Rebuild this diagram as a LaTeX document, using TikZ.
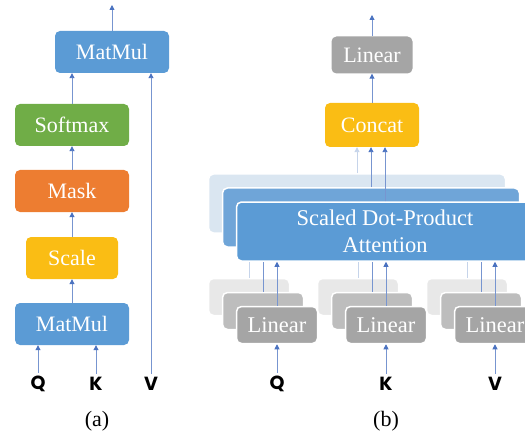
\documentclass[tikz,border=0pt]{standalone}
\usepackage{fontspec}
\setmainfont{Liberation Serif}
\newfontfamily\qkvfont{Poppins}
\usetikzlibrary{arrows.meta}
\definecolor{mmblue}{HTML}{5B9BD5}
\definecolor{smgreen}{HTML}{70AD47}
\definecolor{mkorange}{HTML}{ED7D31}
\definecolor{scyellow}{HTML}{FABD14}
\definecolor{lngrey}{HTML}{A5A5A5}
\definecolor{lnmid}{HTML}{BDBDBD}
\definecolor{lnback}{HTML}{E8E8E8}
\definecolor{attmid}{HTML}{6FA5D8}
\definecolor{attback}{HTML}{DAE6F1}
\definecolor{arrblue}{HTML}{4A72C0}
\definecolor{arrfaint}{HTML}{C6D4EA}
\begin{document}
\begin{tikzpicture}[x=1pt,y=-1pt,
  block/.style={rounded corners=5pt,fill=#1,text=white,inner sep=0pt,
    font=\fontsize{22}{26}\selectfont,minimum height=42pt},
  layer/.style={rounded corners=5pt,fill=#1,draw=white,line width=1.5pt,
    text=white,inner sep=0pt,align=center,font=\fontsize{22.5}{27}\selectfont},
  inlabel/.style={font=\qkvfont\bfseries\fontsize{19}{23}\selectfont,inner sep=3pt},
  caption/.style={font=\fontsize{22}{26}\selectfont,inner sep=0pt},
  arr/.style={draw=arrblue!75,line width=0.9pt,
    -{Triangle[length=5pt,width=5pt,color=arrblue]}},
  faint/.style={draw=arrfaint,line width=0.9pt,
    -{Triangle[length=5pt,width=5pt,color=arrfaint]}}]
\useasboundingbox (0,0) rectangle (525,441);
\clip (0,0) rectangle (525,441);

% (a) scaled dot-product attention
\node[block=mmblue,minimum width=114pt] (mmtop) at (112,52) {MatMul};
\node[block=smgreen,minimum width=114pt] (softmax) at (72,125) {Softmax};
\node[block=mkorange,minimum width=114pt] (mask) at (72,191) {Mask};
\node[block=scyellow,minimum width=92pt] (scale) at (72,258) {Scale};
\node[block=mmblue,minimum width=114pt] (mmbot) at (72,324) {MatMul};
\node[inlabel] (qa) at (38,384) {Q};
\node[inlabel] (ka) at (96,384) {K};
\node[inlabel] (va) at (151,384) {V};
\coordinate (outa) at (112,5);
\node[caption] (capa) at (97,421) {(a)};

\draw[arr] (mmtop.north) -- (outa);
\draw[arr] (softmax.north) -- (softmax.north |- mmtop.south);
\draw[arr] (mask.north) -- (softmax.south);
\draw[arr] (scale.north) -- (mask.south);
\draw[arr] (mmbot.north) -- (scale.south);
\draw[arr] (qa.north) -- (qa.north |- mmbot.south);
\draw[arr] (ka.north) -- (ka.north |- mmbot.south);
\draw[arr] (va.north) -- (va.north |- mmtop.south);

% (b) multi-head attention
\node[block=lngrey,minimum width=81pt,minimum height=37pt] (lintop) at (372,55) {Linear};
\node[block=scyellow,minimum width=94pt,minimum height=44pt] (concat) at (372,125) {Concat};
\coordinate (outb) at (372,15);
\draw[arr] (lintop.north) -- (outb);
\draw[arr] (concat.north) -- (lintop.south);

% stacked heads, back to front
\foreach \i/\d/\c/\l/\a in {1/28/attback/lnback/faint, 2/14/attmid/lnmid/arr} {
  \node[layer=\c,minimum width=297pt,minimum height=59pt] (att\i) at (385-\d,231.5-\d) {};
  \draw[\a] (att\i.north) -- (att\i.north |- concat.south);
  \foreach \g/\x in {q/277,k/386,v/495} {
    \node[layer=\l,minimum width=81pt,minimum height=37pt] (lin\g\i) at (\x-\d,325-\d) {};
    \draw[\a] (lin\g\i.north) -- (lin\g\i.north |- att\i.south);
  }
}
\node[layer=mmblue,minimum width=297pt,minimum height=59pt] (att3) at (385,231.5)
  {Scaled Dot-Product\\Attention};
\draw[arr] (att3.north) -- (att3.north |- concat.south);
\foreach \g/\x/\t in {q/277/Q,k/386/K,v/495/V} {
  \node[layer=lngrey,minimum width=81pt,minimum height=37pt] (lin\g3) at (\x,325) {Linear};
  \draw[arr] (lin\g3.north) -- (lin\g3.north |- att3.south);
  \node[inlabel] (\g b) at (\x,384) {\t};
  \draw[arr] (\g b.north) -- (lin\g3.south);
}
\node[caption] (capb) at (386,421) {(b)};
\end{tikzpicture}
\end{document}
